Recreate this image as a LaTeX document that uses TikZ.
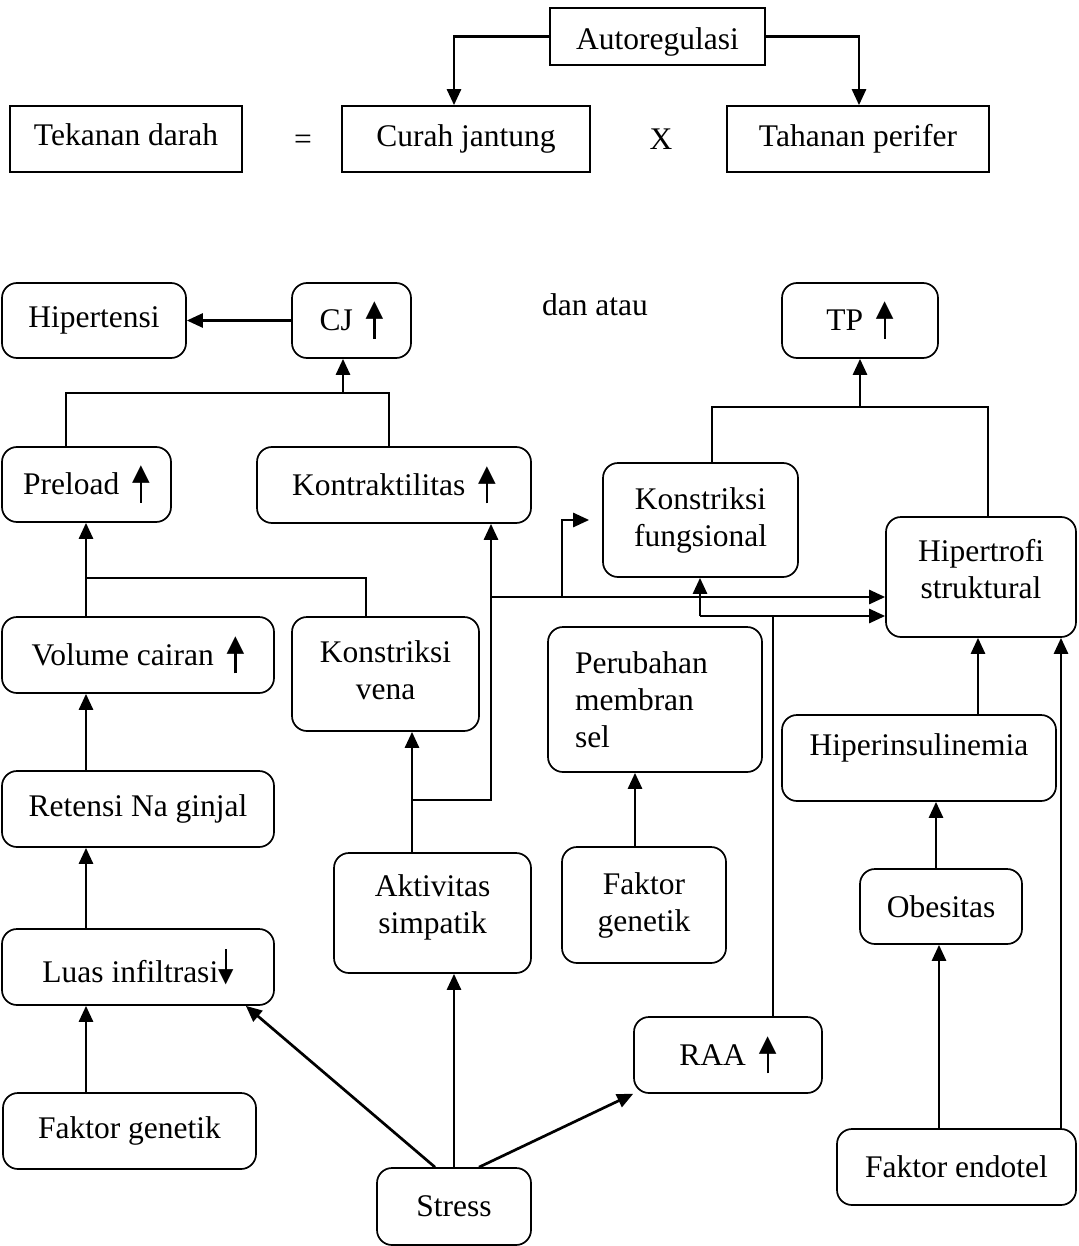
\documentclass[tikz,border=0pt]{standalone}
\usepackage{fontspec}
\setmainfont{Liberation Serif}
\newfontfamily\djv{DejaVu Sans}
\usetikzlibrary{arrows.meta}
\newcommand\upar{\hspace{5pt}\raisebox{-8pt}{\vbox{\offinterlineskip\halign{\hfil##\hfil\cr{\djv\fontsize{23}{23}\selectfont ▲}\cr\noalign{\kern-5pt}\rule{2.2pt}{24pt}\cr}}}}
\newcommand\dnar{\vbox{\offinterlineskip\halign{\hfil##\hfil\cr\rule{2.2pt}{25pt}\cr\noalign{\kern-4pt}{\djv\fontsize{20}{20}\selectfont ▼}\cr}}}
\begin{document}
\begin{tikzpicture}[x=1pt,y=-1pt,
  every node/.style={font=\fontsize{31.5}{37}\selectfont},
  sbox/.style={draw, line width=1.7pt, rectangle, inner sep=0pt},
  rbox/.style={draw, line width=1.7pt, rounded corners=15pt, inner sep=0pt, align=center},
  arr/.style={line width=2.7pt, -{Triangle[length=16pt,width=14pt]}},
  ln/.style={line width=1.9pt}]
\useasboundingbox (0,0) rectangle (1078,1246);
\fill[white] (0,0) rectangle (1078,1246);
% top section
\node[sbox, minimum width=215pt, minimum height=57pt, text height=33pt, text depth=6pt] (auto) at (657.5,36.5) {Autoregulasi};
\node[sbox, minimum width=232pt, minimum height=66pt, text height=22pt, text depth=8pt] (tek) at (126,139) {Tekanan darah};
\node (eq) at (303,142) {=};
\node[sbox, minimum width=248pt, minimum height=66pt] (curah) at (466,139) {Curah jantung};
\node (xx) at (661,139) {X};
\node[sbox, minimum width=262pt, minimum height=66pt] (tah) at (858,139) {Tahanan perifer};
\coordinate (a1) at (454,0);
\coordinate (a2) at (859,0);
\draw[arr] (auto.west) -| (a1 |- curah.north);
\draw[arr] (auto.east) -| (a2 |- tah.north);
% bottom section nodes
\node[rbox, minimum width=184pt, minimum height=75pt] (hip) at (94,320.5) {Hipertensi};
\node[rbox, minimum width=119pt, minimum height=75pt] (cj) at (351.5,320.5) {CJ \upar};
\node (dan) at (595,305) {dan atau};
\node[rbox, minimum width=156pt, minimum height=75pt] (tp) at (860,320.5) {TP \upar};
\node[rbox, minimum width=169pt, minimum height=75pt] (pre) at (86.5,484.5) {Preload \upar};
\node[rbox, minimum width=274pt, minimum height=76pt] (kon) at (394,485) {Kontraktilitas \upar};
\node[rbox, minimum width=195pt, minimum height=114pt] (kf) at (700.5,520) {Konstriksi\\fungsional};
\node[rbox, minimum width=190pt, minimum height=120pt, text depth=16pt] (hs) at (981,577) {Hipertrofi\\struktural};
\node[rbox, minimum width=272pt, minimum height=76pt] (vol) at (138,655) {Volume cairan \upar};
\node[rbox, minimum width=187pt, minimum height=114pt, text depth=8pt] (kv) at (385.5,674) {Konstriksi\\vena};
\node[rbox, minimum width=214pt, minimum height=145pt, text width=160pt, align=left] (pms) at (655,699.5) {Perubahan\\membran\\sel};
\node[rbox, minimum width=274pt, minimum height=86pt, text depth=26pt] (hi) at (919,758) {Hiperinsulinemia};
\node[rbox, minimum width=272pt, minimum height=76pt] (ret) at (138,809) {Retensi Na ginjal};
\node[rbox, minimum width=197pt, minimum height=120pt, text depth=17pt] (as) at (432.5,913) {Aktivitas\\simpatik};
\node[rbox, minimum width=164pt, minimum height=116pt] (fg2) at (644,905) {Faktor\\genetik};
\node[rbox, minimum width=162pt, minimum height=75pt] (ob) at (941,906.5) {Obesitas};
\node[rbox, minimum width=272pt, minimum height=76pt] (luas) at (138,967) {Luas infiltrasi\dnar};
\node[rbox, minimum width=188pt, minimum height=76pt] (raa) at (728,1055) {RAA \upar};
\node[rbox, minimum width=253pt, minimum height=76pt] (fg1) at (129.5,1131) {Faktor genetik};
\node[rbox, minimum width=239pt, minimum height=76pt] (fe) at (956.5,1167) {Faktor endotel};
\node[rbox, minimum width=154pt, minimum height=77pt] (stress) at (454,1206.5) {Stress};
% connectors
\draw[arr] (cj.west) -- (hip.east);
\coordinate (p1) at (66,393); \coordinate (p2) at (389,393); \coordinate (p3) at (343,393);
\draw[ln] (p1 |- pre.north) -- (p1) -- (p2) -- (p2 |- kon.north);
\draw[arr] (p3) -- (p3 |- cj.south);
\coordinate (v1) at (86,578); \coordinate (v2) at (366,578);
\draw[ln] (v1 |- vol.north) -- (v1) -- (v2) -- (v2 |- kv.north);
\draw[arr] (v1) -- (v1 |- pre.south);
\draw[arr] (v1 |- ret.north) -- (v1 |- vol.south);
\draw[arr] (v1 |- luas.north) -- (v1 |- ret.south);
\draw[arr] (v1 |- fg1.north) -- (v1 |- luas.south);
\draw[arr] ([xshift=-19pt]stress.north) -- ([xshift=-29pt]luas.south east);
\draw[arr] (stress.north) -- (stress.north |- as.south);
\draw[arr] ([xshift=25pt]stress.north) -- (raa.south west);
\coordinate (k1) at (412,800); \coordinate (k2) at (491,800);
\coordinate (k3) at (491,597); \coordinate (k4) at (562,597);
\draw[arr] (k1 |- as.north) -- (k1 |- kv.south);
\draw[arr] (k1) -- (k2) -- (k2 |- kon.south);
\draw[arr] (k3) -- (k3 -| hs.west);
\draw[arr, shorten >=13pt] (k4) |- (kf.west);
\coordinate (r1) at (773,616); \coordinate (r0) at (700,616);
\draw[ln] (r1 |- raa.north) -- (r1);
\draw[arr] (r0) -- (r0 -| hs.west);
\draw[arr] (r0) -- (r0 |- kf.south);
\coordinate (t1) at (712,407); \coordinate (t2) at (988,407); \coordinate (t3) at (860,407);
\draw[ln] (t1 |- kf.north) -- (t1) -- (t2) -- (t2 |- hs.north);
\draw[arr] (t3) -- (t3 |- tp.south);
\coordinate (g1) at (635,0); \coordinate (h1) at (978,0);
\coordinate (o1) at (936,0); \coordinate (e1) at (939,0); \coordinate (e2) at (1061,0);
\draw[arr] (g1 |- fg2.north) -- (g1 |- pms.south);
\draw[arr] (h1 |- hi.north) -- (h1 |- hs.south);
\draw[arr] (o1 |- ob.north) -- (o1 |- hi.south);
\draw[arr] (e1 |- fe.north) -- (e1 |- ob.south);
\draw[arr] (e2 |- fe.north) -- (e2 |- hs.south);
\end{tikzpicture}
\end{document}
